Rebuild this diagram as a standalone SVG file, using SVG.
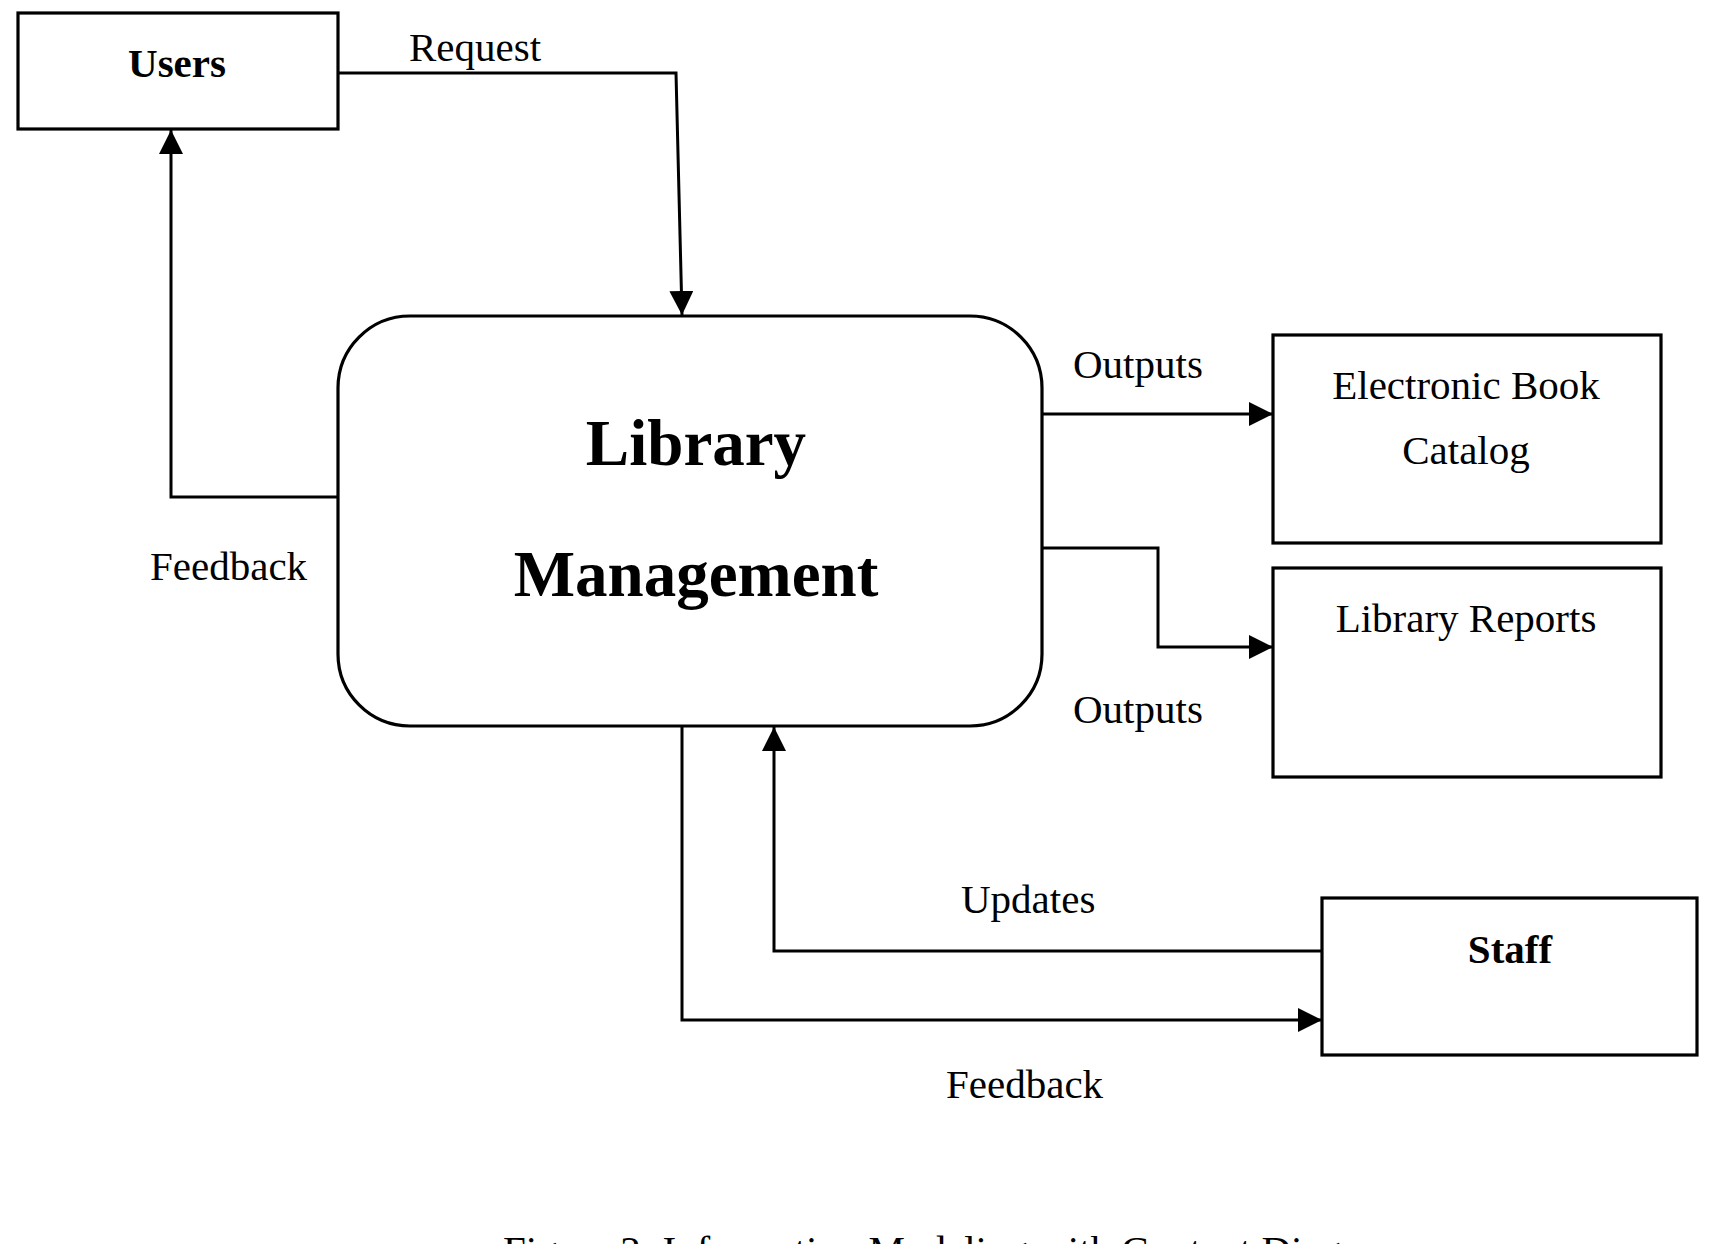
<svg xmlns="http://www.w3.org/2000/svg" width="1717" height="1244" viewBox="0 0 1717 1244">
<style>
.box{fill:#fff;stroke:#000;stroke-width:3.2}
.conn{fill:none;stroke:#000;stroke-width:3}
.t{font-family:"Liberation Serif","Times New Roman",serif;font-size:41px;fill:#000}
.b{font-weight:bold}
.big{font-family:"Liberation Serif","Times New Roman",serif;font-size:65px;font-weight:bold;fill:#000}
.c{text-anchor:middle}
</style>
<defs>
<marker id="arr" markerUnits="userSpaceOnUse" markerWidth="24" markerHeight="24" refX="24" refY="12" orient="auto" viewBox="0 0 24 24">
<path d="M0,0 L24,12 L0,24 Z" fill="#000"/>
</marker>
</defs>
<rect width="1717" height="1244" fill="#fff"/>
<g id="connectors">
<path class="conn" d="M338,73 L676,73 L682,315" marker-end="url(#arr)"/>
<path class="conn" d="M338,497 L171,497 L171,130" marker-end="url(#arr)"/>
<path class="conn" d="M1042,414 L1273,414" marker-end="url(#arr)"/>
<path class="conn" d="M1042,548 L1158,548 L1158,647 L1273,647" marker-end="url(#arr)"/>
<path class="conn" d="M682,726 L682,1020 L1322,1020" marker-end="url(#arr)"/>
<path class="conn" d="M1322,951 L774,951 L774,727" marker-end="url(#arr)"/>
</g>
<g id="users">
<rect class="box" x="18" y="13" width="320" height="116"/>
<text class="t b c" x="177" y="77">Users</text>
</g>
<g id="library-management">
<rect class="box" x="338" y="316" width="704" height="410" rx="72" ry="72"/>
<text class="big c" x="696" y="465">Library</text>
<text class="big c" x="696" y="596">Management</text>
</g>
<g id="electronic-book-catalog">
<rect class="box" x="1273" y="335" width="388" height="208"/>
<text class="t c" x="1466" y="399">Electronic Book</text>
<text class="t c" x="1466" y="464">Catalog</text>
</g>
<g id="library-reports">
<rect class="box" x="1273" y="568" width="388" height="209"/>
<text class="t c" x="1466" y="632">Library Reports</text>
</g>
<g id="staff">
<rect class="box" x="1322" y="898" width="375" height="157"/>
<text class="t b c" x="1510" y="963">Staff</text>
</g>
<g id="labels">
<text class="t" x="409" y="61">Request</text>
<text class="t" x="150" y="580">Feedback</text>
<text class="t" x="1073" y="378">Outputs</text>
<text class="t" x="1073" y="723">Outputs</text>
<text class="t" x="961" y="913">Updates</text>
<text class="t" x="946" y="1098">Feedback</text>
<text class="t" x="503" y="1264">Figure 2: Information Modeling with Context Diagram</text>
</g>
</svg>
